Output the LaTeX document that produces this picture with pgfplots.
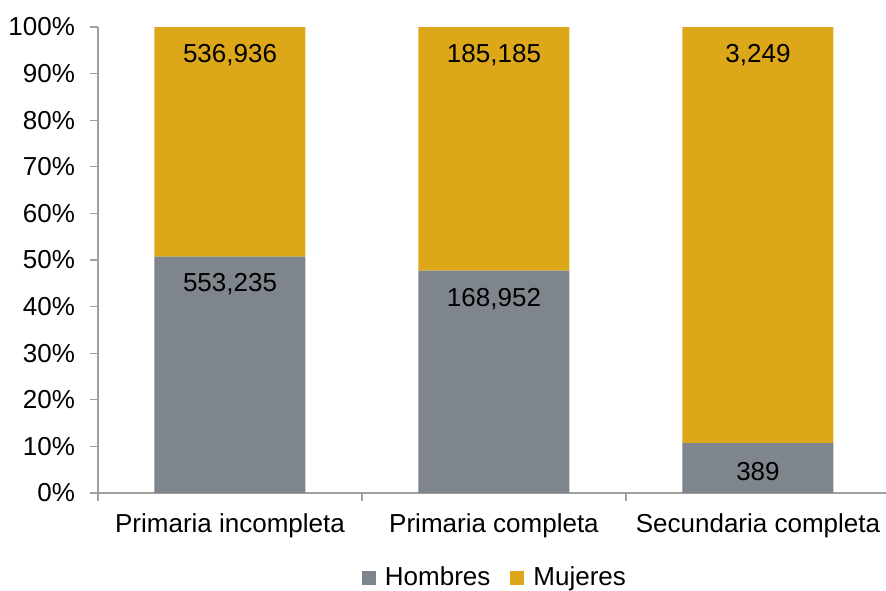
\documentclass[border=0pt]{standalone}
\usepackage{pgfplots}
\pgfplotsset{compat=1.18}
\usepackage{pgfplotstable}
\usepackage{fontspec}
\setmainfont{Liberation Sans}
\definecolor{hom}{RGB}{127,133,140}
\definecolor{muj}{RGB}{220,168,26}
\definecolor{axgray}{RGB}{160,160,160}
\pgfplotstableread{
x pct lbl
0 50.748 553,235
1 47.708 168,952
2 10.693 389
}\hombres
\pgfplotstableread{
x pct lbl
0 49.252 536,936
1 52.292 185,185
2 89.307 3,249
}\mujeres
\begin{document}
\fontsize{13}{15}\selectfont
\begin{tikzpicture}
\begin{axis}[
  at={(0,0)}, anchor=south west,
  scale only axis,
  width=394pt, height=233pt,
  ybar stacked,
  bar width=75.5pt,
  xmin=-0.5, xmax=2.485,
  ymin=0, ymax=100,
  ytick={0,10,...,100},
  yticklabel={\pgfmathprintnumber{\tick}\%},
  /pgf/number format/assume math mode=true,
  xtick={-0.5,0.5,1.5},
  xticklabels={},
  extra x ticks={0,1,2},
  extra x tick labels={Primaria incompleta,Primaria completa,Secundaria completa},
  extra x tick style={major tick length=0pt, tick label style={yshift=-6pt}},
  axis lines*=left,
  axis line style={axgray, line width=0.6pt},
  tick style={axgray, line width=0.6pt},
  tick align=outside,
  major tick length=4pt,
  y tick label style={xshift=-3pt},
  tick label style={font=\fontsize{13}{15}\selectfont},
  legend style={at={(0.505,-0.1824)}, anchor=center, draw=none, legend columns=-1,
    font=\fontsize{13}{15}\selectfont,
    /tikz/every odd column/.append style={column sep=2.5pt},
    /tikz/every even column/.append style={column sep=8pt}},
  legend image code/.code={\fill[#1] (0pt,-3.5pt) rectangle (7pt,3.5pt);},
  nodes near coords,
  point meta=explicit symbolic,
  visualization depends on={\thisrow{pct} \as \segpct},
  every node near coord/.append style={anchor=center, yshift={\segpct*1.165pt-14pt}, font=\fontsize{13}{15}\selectfont, text=black},
]
\addplot[fill=hom, draw=none] table[x=x, y=pct, meta=lbl] {\hombres};
\addlegendentry{Hombres}
\addplot[fill=muj, draw=none] table[x=x, y=pct, meta=lbl] {\mujeres};
\addlegendentry{Mujeres}
\end{axis}
\pgfresetboundingbox
\path (-49pt,-48.5pt) rectangle ++(443pt,295pt);
\end{tikzpicture}
\end{document}
